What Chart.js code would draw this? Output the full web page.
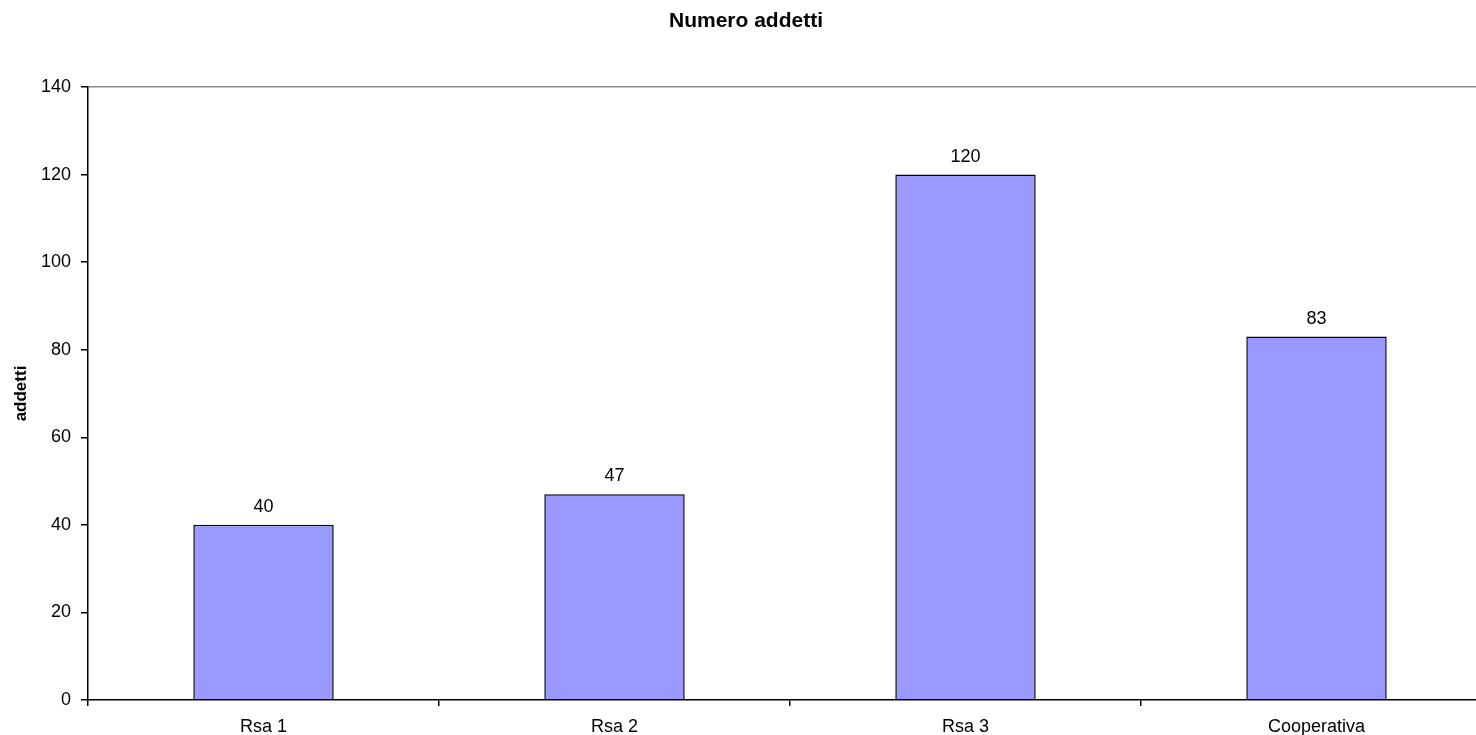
<!DOCTYPE html>
<html>
<head>
<meta charset="utf-8">
<script src="https://cdn.jsdelivr.net/npm/chart.js@4/dist/chart.umd.min.js"></script>
<style>
  html, body { margin: 0; padding: 0; background: #fff; overflow: hidden; }
  #wrap { width: 1492px; height: 735px; }
</style>
</head>
<body>
<div id="wrap"><canvas id="c"></canvas></div>
<script>
// Staff count per structure
const categories = ['Rsa 1', 'Rsa 2', 'Rsa 3', 'Cooperativa'];
const addetti = [40, 47, 120, 83];
const yTicks = [0, 20, 40, 60, 80, 100, 120, 140];

const FONT = "'Liberation Sans', Arial, sans-serif";

// Writes each bar's value just above it
const valueLabels = {
  id: 'valueLabels',
  afterDatasetsDraw(chart) {
    const ctx = chart.ctx;
    const meta = chart.getDatasetMeta(0);
    ctx.save();
    ctx.font = '18px ' + FONT;
    ctx.fillStyle = '#000';
    ctx.textAlign = 'center';
    ctx.textBaseline = 'middle';
    meta.data.forEach((bar, i) => {
      ctx.fillText(String(chart.data.datasets[0].data[i]), bar.x, bar.y - 18);
    });
    ctx.restore();
  }
};

new Chart(document.getElementById('c'), {
  type: 'bar',
  data: {
    labels: categories,
    datasets: [{
      label: 'addetti',
      data: addetti,
      backgroundColor: '#9999ff',
      borderColor: '#000',
      borderWidth: 1.5,
      categoryPercentage: 1,
      barPercentage: 0.4
    }]
  },
  options: {
    responsive: true,
    maintainAspectRatio: false,
    animation: false,
    layout: { padding: 0 },
    plugins: {
      legend: { display: false },
      tooltip: { enabled: false },
      title: {
        display: true,
        text: 'Numero addetti',
        color: '#000',
        font: { family: FONT, size: 21, weight: 'bold', lineHeight: 1.2 },
        padding: { top: 9, bottom: 52.8 }
      }
    },
    scales: {
      x: {
        offset: true,
        border: { display: true, color: '#000', width: 1.5 },
        grid: {
          offset: true,
          drawOnChartArea: false,
          drawTicks: true,
          tickLength: 6,
          tickColor: '#000',
          color: '#000',
          lineWidth: 1.5
        },
        ticks: {
          color: '#000',
          padding: 10,
          maxRotation: 0,
          font: { family: FONT, size: 18 }
        },
        afterFit(scale) { scale.height = 35; }
      },
      y: {
        min: 0,
        max: 140,
        afterBuildTicks(scale) { scale.ticks = yTicks.map(v => ({ value: v })); },
        border: { display: true, color: '#000', width: 1.5 },
        grid: {
          drawTicks: true,
          tickLength: 7,
          tickColor: '#000',
          color: ctx => (ctx.tick && ctx.tick.value === 140) ? '#8c8c8c' : 'rgba(0,0,0,0)',
          lineWidth: 1.5
        },
        ticks: {
          color: '#000',
          padding: 10,
          font: { family: FONT, size: 18 }
        },
        title: {
          display: true,
          text: 'addetti',
          color: '#000',
          font: { family: FONT, size: 17, weight: 'bold', lineHeight: 1.2 },
          padding: { top: 11, bottom: 0 }
        },
        afterFit(scale) { scale.width = 88; }
      }
    }
  },
  plugins: [valueLabels]
});
</script>
</body>
</html>
